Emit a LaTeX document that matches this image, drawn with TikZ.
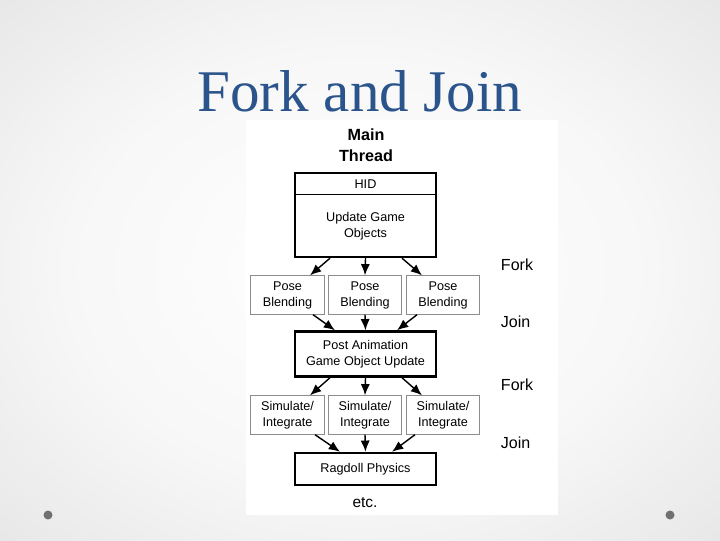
\documentclass[tikz,border=0pt]{standalone}
\usepackage{fontspec}
\setmainfont{Liberation Serif}
\setsansfont{Liberation Sans}
\usetikzlibrary{arrows.meta}

\definecolor{titleblue}{RGB}{44,84,140}
\definecolor{dotgray}{RGB}{112,112,112}
\pgfdeclareradialshading{slidebg}{\pgfpoint{0bp}{0bp}}{color(0bp)=(white); color(20bp)=(white!97!black); color(50bp)=(white!85!black); color(72bp)=(white!78!black)}
\newcommand{\pxl}{0.025cm}

\begin{document}
\begin{tikzpicture}[x=0.025cm,y=-0.025cm,
    thickbox/.style={draw=black, line width=1.7pt, minimum width=141*\pxl, inner sep=0pt},
    thinbox/.style={draw=black!45, line width=0.6pt, minimum width=73.5*\pxl, minimum height=38.5*\pxl, inner sep=0pt},
    boxtext/.style={font=\sffamily\fontsize{9}{11.4}\selectfont, align=center},
    sidelabel/.style={font=\sffamily\fontsize{11.4}{13}\selectfont, anchor=west},
    flow/.style={-{Latex[length=8pt,width=6.5pt]}, line width=1pt}]
    \useasboundingbox (0,0) rectangle (720,540);
    % スライドの背景
    \shade[shading=slidebg] (0,0) rectangle (720,540);
    \fill[white] (246,120) rectangle (558,515);
    \fill[dotgray] (48,515) circle (4.5*\pxl);
    \fill[dotgray] (670,515) circle (4.5*\pxl);
    \node[font=\fontsize{42}{48}\selectfont, text=titleblue, anchor=base] (title) at (360,111) {Fork and Join};

    % メインスレッド
    \node[font=\sffamily\bfseries\fontsize{11.5}{15}\selectfont, align=center] (mthread) at (366,145) {Main\\Thread};
    \node[thickbox, minimum height=84*\pxl] (main) at (365.5,215) {};
    \draw[line width=0.5pt] ([yshift=-23*\pxl]main.north west) -- ([yshift=-23*\pxl]main.north east);
    \node[boxtext] (hid) at (365.5,184.5) {HID};
    \node[boxtext] (upd) at (365.5,226.5) {Update Game\\Objects};

    % 並列ジョブの箱
    \foreach \i/\x in {1/287.5,2/365,3/443} {
        \node[thinbox, boxtext] (pose\i) at (\x,295) {Pose\\Blending};
        \node[thinbox, boxtext] (sim\i) at (\x,415) {Simulate/\\Integrate};
    }
    \node[thickbox, boxtext, minimum height=45*\pxl] (post) at (365.5,354) {Post Animation\\Game Object Update};
    \node[thickbox, boxtext, minimum height=32*\pxl] (rag) at (365.5,469) {Ragdoll Physics};
    \node[font=\sffamily\fontsize{11}{13}\selectfont] (etc) at (365,503) {etc.};

    % 右側のラベル
    \foreach \t/\y/\n in {Fork/265/fork1, Join/322/join1, Fork/385/fork2, Join/443/join2}
        \node[sidelabel] (\n) at (496,\y) {\t};

    % フォークとジョイン
    \foreach \i/\a/\b in {1/-35.5/22.5, 2/0/0, 3/36.5/-21} {
        \draw[flow] ([xshift=\a*\pxl]main.south) -- ([xshift=\b*\pxl]pose\i.north);
        \draw[flow] ([xshift=\a*\pxl]post.south) -- ([xshift=\b*\pxl]sim\i.north);
    }
    \foreach \i/\a/\b in {1/25.5/-30.5, 2/0/0, 3/-26/31.5}
        \draw[flow] ([xshift=\a*\pxl]pose\i.south) -- ([xshift=\b*\pxl]post.north);
    \foreach \i/\a/\b in {1/27.5/-25.5, 2/0/0, 3/-28/26.5}
        \draw[flow] ([xshift=\a*\pxl]sim\i.south) -- ([xshift=\b*\pxl]rag.north);

\end{tikzpicture}
\end{document}
